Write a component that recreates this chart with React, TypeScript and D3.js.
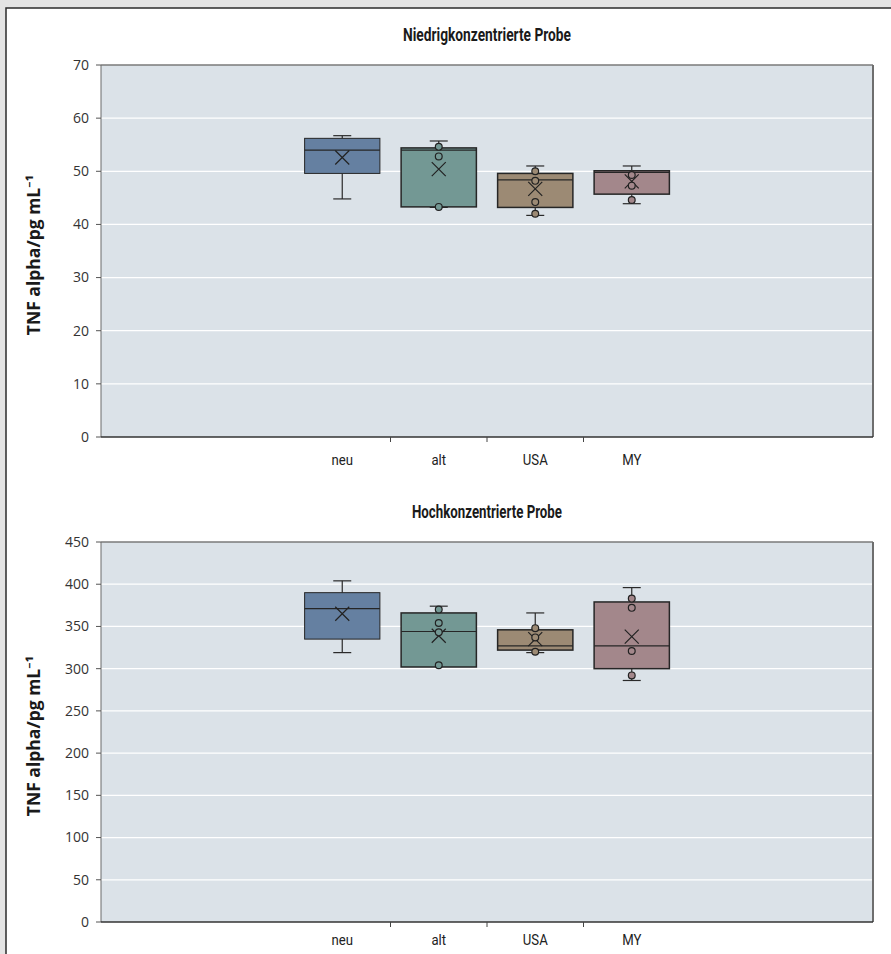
import React from 'react';
import * as d3 from 'd3';

const categories = ['neu', 'alt', 'USA', 'MY'];
const colors = ['#6580a1', '#739894', '#9c8a74', '#a3878b'];

// low concentration sample
const lowMin = [44.8, 43.2, 41.7, 43.9];
const lowQ1 = [49.6, 43.3, 43.2, 45.7];
const lowMedian = [54.0, 54.0, 48.4, 49.8];
const lowQ3 = [56.2, 54.4, 49.6, 50.1];
const lowMax = [56.7, 55.7, 51.0, 51.0];
const lowMean = [52.6, 50.4, 46.7, 48.1];
const lowPoints = [[], [54.6, 52.8, 43.3], [50.0, 48.2, 44.2, 42.0], [49.3, 47.3, 44.6]];

// high concentration sample
const highMin = [319, 303, 319, 286];
const highQ1 = [335, 302, 322, 300];
const highMedian = [371, 344, 327, 327];
const highQ3 = [390, 366, 346, 379];
const highMax = [404, 374, 366, 396];
const highMean = [365, 339, 335, 338];
const highPoints = [[], [370, 354, 343, 304], [348, 337, 320], [383, 372, 321, 292]];

const lowTicks = [0, 10, 20, 30, 40, 50, 60, 70];
const highTicks = [0, 50, 100, 150, 200, 250, 300, 350, 400, 450];

const condensed = 'Roboto, "Noto Sans", sans-serif';
const tickFont = '"Open Sans", "Noto Sans", sans-serif';

const PLOT_LEFT = 101;
const PLOT_RIGHT = 873;

type Panel = {
  title: string;
  titleWidth: number;
  top: number;
  bottom: number;
  labelOffset: number;
  max: number;
  ticks: number[];
  mins: number[];
  q1: number[];
  medians: number[];
  q3: number[];
  maxs: number[];
  means: number[];
  points: number[][];
};

const BoxPanel = ({ p }: { p: Panel }) => {
  const y = d3.scaleLinear().domain([0, p.max]).range([p.bottom, p.top]);
  const bandW = (PLOT_RIGHT - PLOT_LEFT) / 8;
  const mid = (PLOT_LEFT + PLOT_RIGHT) / 2;
  const x = d3.scaleBand()
    .domain(categories)
    .range([mid - 2 * bandW, mid + 2 * bandW])
    .paddingInner(0.22)
    .paddingOuter(0.11);
  const boxW = x.bandwidth();
  const cap = 9;
  const xs = 7;

  return (
    <g>
      <text x={mid - p.titleWidth / 2} y={p.top - 24} fontFamily={condensed}
        fontWeight="bold" fontSize={18} fill="#1a1a1a"
        textLength={p.titleWidth} lengthAdjust="spacingAndGlyphs">{p.title}</text>
      <rect x={PLOT_LEFT} y={p.top} width={PLOT_RIGHT - PLOT_LEFT} height={p.bottom - p.top} fill="#dbe2e8" />
      {p.ticks.filter(t => t > 0 && t < p.max).map(t => (
        <line key={'g' + t} x1={PLOT_LEFT} x2={PLOT_RIGHT} y1={y(t)} y2={y(t)} stroke="#ffffff" strokeWidth={1.2} />
      ))}
      <line x1={PLOT_LEFT} x2={PLOT_RIGHT} y1={p.top} y2={p.top} stroke="#7a7a7a" strokeWidth={1.5} />
      <line x1={PLOT_RIGHT} x2={PLOT_RIGHT} y1={p.top} y2={p.bottom} stroke="#6e6e6e" strokeWidth={2} />
      <line x1={PLOT_LEFT} x2={PLOT_LEFT} y1={p.top} y2={p.bottom} stroke="#6a6a6a" strokeWidth={1} />
      <line x1={PLOT_LEFT} x2={PLOT_RIGHT} y1={p.bottom} y2={p.bottom} stroke="#333333" strokeWidth={1.6} />
      {p.ticks.map(t => (
        <g key={'t' + t}>
          <line x1={PLOT_LEFT - 5} x2={PLOT_LEFT} y1={y(t)} y2={y(t)} stroke="#555" strokeWidth={1} />
          <text x={PLOT_LEFT - 12} y={y(t)} dy="0.35em" textAnchor="end" fontFamily={tickFont}
            fontSize={14} fill="#333">{t}</text>
        </g>
      ))}
      {categories.slice(1).map(c => (
        <line key={'ct' + c} x1={(x(c) as number) - x.step() * 0.11} x2={(x(c) as number) - x.step() * 0.11}
          y1={p.bottom} y2={p.bottom + 5} stroke="#444" strokeWidth={1} />
      ))}
      {categories.map(c => (
        <text key={'cl' + c} transform={`translate(${(x(c) as number) + boxW / 2},${p.bottom + p.labelOffset}) scale(0.85,1)`}
          textAnchor="middle" fontFamily={condensed} fontSize={15.5} fill="#222">{c}</text>
      ))}
      <text transform={`translate(40,${(p.top + p.bottom) / 2 + 4}) rotate(-90)`} textAnchor="middle"
        fontFamily={tickFont} fontWeight="bold" fontSize={17.5} fill="#1a1a1a">
        TNF alpha/pg mL⁻¹
      </text>
      {categories.map((c, i) => {
        const x0 = x(c) as number;
        const cx = x0 + boxW / 2;
        const m = y(p.means[i]);
        return (
          <g key={'b' + c}>
            <line x1={cx} x2={cx} y1={y(p.maxs[i])} y2={y(p.q3[i])} stroke="#2a2a2a" strokeWidth={1.2} />
            <line x1={cx} x2={cx} y1={y(p.q1[i])} y2={y(p.mins[i])} stroke="#2a2a2a" strokeWidth={1.2} />
            <line x1={cx - cap} x2={cx + cap} y1={y(p.maxs[i])} y2={y(p.maxs[i])} stroke="#2a2a2a" strokeWidth={1.2} />
            <line x1={cx - cap} x2={cx + cap} y1={y(p.mins[i])} y2={y(p.mins[i])} stroke="#2a2a2a" strokeWidth={1.2} />
            <rect x={x0} y={y(p.q3[i])} width={boxW} height={y(Math.min(p.q1[i], p.q3[i])) - y(p.q3[i])}
              fill={colors[i]} stroke="#262626" strokeWidth={i === 0 ? 1 : 1.5} />
            <line x1={x0} x2={x0 + boxW} y1={y(p.medians[i])} y2={y(p.medians[i])} stroke="#262626" strokeWidth={1.2} />
            <path d={`M${cx - xs},${m - xs}L${cx + xs},${m + xs}M${cx - xs},${m + xs}L${cx + xs},${m - xs}`}
              stroke="#222" strokeWidth={1.2} fill="none" />
            {p.points[i].map((v, j) => (
              <circle key={j} cx={cx} cy={y(v)} r={3.4} fill={colors[i]} stroke="#222" strokeWidth={1.2} />
            ))}
          </g>
        );
      })}
    </g>
  );
};

export default function App() {
  const panels: Panel[] = [
    {
      title: 'Niedrigkonzentrierte Probe', titleWidth: 168, top: 65, bottom: 437, labelOffset: 28, max: 70,
      ticks: lowTicks, mins: lowMin, q1: lowQ1, medians: lowMedian, q3: lowQ3, maxs: lowMax, means: lowMean,
      points: lowPoints,
    },
    {
      title: 'Hochkonzentrierte Probe', titleWidth: 150, top: 542, bottom: 922, labelOffset: 23, max: 450,
      ticks: highTicks, mins: highMin, q1: highQ1, medians: highMedian, q3: highQ3, maxs: highMax, means: highMean,
      points: highPoints,
    },
  ];
  return (
    <div style={{ position: 'absolute', left: 0, top: 0 }}>
      <svg width={891} height={954} style={{ display: 'block' }}>
        <rect x={0} y={0} width={891} height={954} fill="#e4e4e4" />
        <rect x={6} y={8} width={900} height={960} fill="#ffffff" stroke="#2b2b2b" strokeWidth={1.5} />
        {panels.map(p => <BoxPanel key={p.title} p={p} />)}
      </svg>
    </div>
  );
}
